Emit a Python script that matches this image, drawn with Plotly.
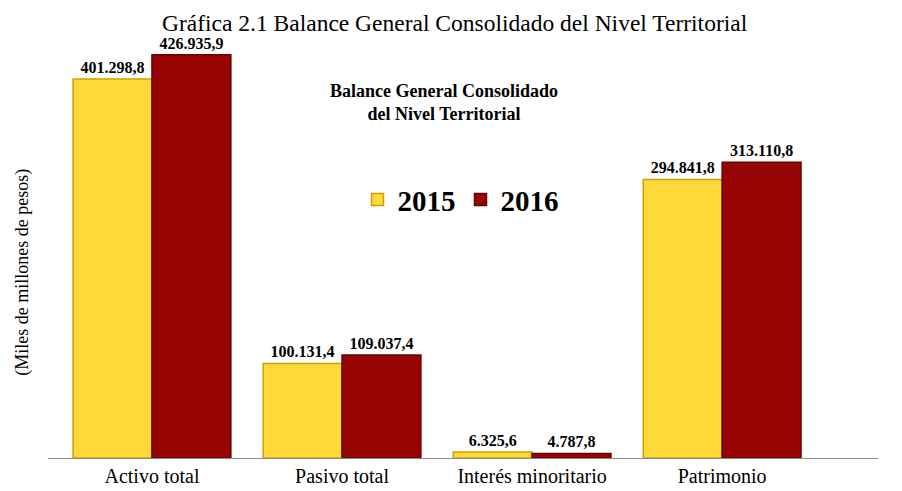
import plotly.graph_objects as go

categories = ["Activo total", "Pasivo total", "Interés minoritario", "Patrimonio"]
values_2015 = [401298.8, 100131.4, 6325.6, 294841.8]
values_2016 = [426935.9, 109037.4, 4787.8, 313110.8]
series_names = ["2015", "2016"]
chart_title = "Gráfica 2.1 Balance General Consolidado del Nivel Territorial"

SERIF = "Liberation Serif, Times New Roman, serif"

fig = go.Figure()
fig.add_trace(go.Bar(
    x=categories, y=values_2015, name=series_names[0],
    marker=dict(color="#FFD93A", line=dict(color="#C9A200", width=1.5)),
    texttemplate="%{y:,.1f}", textposition="outside", cliponaxis=False,
    textfont=dict(family=SERIF, size=16, color="black", weight="bold"),
))
fig.add_trace(go.Bar(
    x=categories, y=values_2016, name=series_names[1],
    marker=dict(color="#970404", line=dict(color="#6A0000", width=1.5)),
    texttemplate="%{y:,.1f}", textposition="outside", cliponaxis=False,
    textfont=dict(family=SERIF, size=16, color="black", weight="bold"),
))

fig.update_layout(
    width=902, height=491,
    separators=",.",
    barmode="group", bargap=0.17, bargroupgap=0,
    plot_bgcolor="white", paper_bgcolor="white",
    margin=dict(l=40, r=32, t=40, b=31),
    font=dict(family=SERIF, color="black"),
    showlegend=True,
    legend=dict(orientation="h", x=0.497, xanchor="center", y=0.63, yanchor="middle",
                font=dict(family=SERIF, size=29, color="black", weight="bold"),
                itemwidth=30, bgcolor="rgba(0,0,0,0)", traceorder="normal"),
    xaxis=dict(range=[-0.547, 3.82], showline=True, linecolor="#8C8C8C", linewidth=1,
               ticks="", tickfont=dict(family=SERIF, size=20, color="black")),
    yaxis=dict(range=[0, 434000], showticklabels=False, showgrid=False,
               zeroline=False, showline=False, ticks=""),
    annotations=[
        dict(text=chart_title, xref="paper", yref="paper", x=0.49, y=1.06,
             xanchor="center", yanchor="middle", showarrow=False,
             font=dict(family=SERIF, size=23.5, color="black")),
        dict(text="<b>Balance General Consolidado<br>del Nivel Territorial</b>",
             xref="paper", yref="paper", x=0.477, y=0.868, xanchor="center", yanchor="middle",
             showarrow=False, font=dict(family=SERIF, size=18, color="black")),
        dict(text="(Miles de millones de pesos)", xref="paper", yref="paper",
             x=-0.03, y=0.452, xanchor="center", yanchor="middle", textangle=-90,
             showarrow=False, font=dict(family=SERIF, size=18, color="black")),
    ],
)

fig.write_html("out.html")
